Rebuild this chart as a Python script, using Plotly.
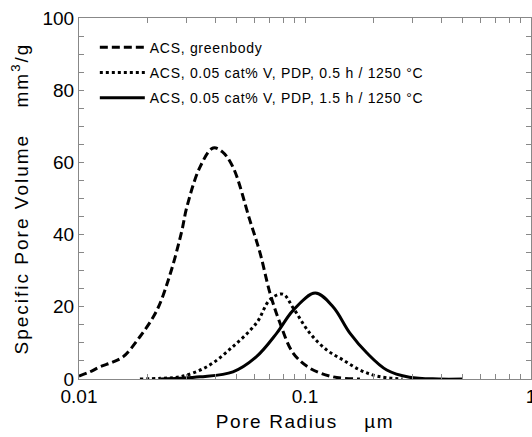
import plotly.graph_objects as go

# Data
x_green = [0.0100, 0.0112, 0.0124, 0.0140, 0.0157, 0.0186, 0.0221, 0.0253, 0.0285, 0.0300, 0.0343,
           0.0392, 0.0430, 0.0480, 0.0570, 0.0632, 0.0700, 0.0775, 0.0886, 0.1050, 0.1330, 0.1750]
y_green = [0.8, 2.0, 3.4, 4.6, 6.2, 11.7, 19.0, 29.0, 41.0, 47.6, 58.7,
           64.0, 63.0, 58.7, 44.0, 35.0, 23.8, 15.5, 7.2, 3.0, 0.6, 0.0]

x_05h = [0.0186, 0.0230, 0.0280, 0.0368, 0.0480, 0.0610, 0.0700, 0.0799, 0.0886, 0.1050,
         0.1250, 0.1470, 0.1750, 0.2080, 0.2700]
y_05h = [0.0, 0.2, 0.6, 3.4, 9.0, 15.5, 22.0, 23.5, 19.7, 12.7,
         8.0, 5.3, 2.5, 0.8, 0.0]

x_15h = [0.0230, 0.0280, 0.0343, 0.0480, 0.0610, 0.0750, 0.0886, 0.1110, 0.1330, 0.1580,
         0.1880, 0.2300, 0.2900, 0.3900, 0.5000]
y_15h = [0.0, 0.2, 0.6, 2.0, 6.2, 12.7, 19.0, 23.8, 20.0, 12.7,
         7.2, 2.5, 0.5, 0.0, 0.0]

names = ["ACS, greenbody",
         "ACS, 0.05 cat% V, PDP, 0.5 h / 1250 °C",
         "ACS, 0.05 cat% V, PDP, 1.5 h / 1250 °C"]

x_major = [0.01, 0.1, 1]
x_major_labels = ["0.01", "0.1", "1"]
y_major = [0, 20, 40, 60, 80, 100]


def spaced(txt, px):
    return f'<span style="letter-spacing:{px}px">{txt}</span>'


fig = go.Figure()
fig.add_trace(go.Scatter(x=x_green, y=y_green, mode="lines", name=spaced(names[0], 0.7), legendgroup="a",
                         line=dict(color="black", width=3, dash="8px,4px", shape="spline")))
fig.add_trace(go.Scatter(x=x_05h, y=y_05h, mode="lines", name=spaced(names[1], 0.7), legendgroup="b",
                         line=dict(color="black", width=3, dash="3px,3px", shape="spline")))
fig.add_trace(go.Scatter(x=x_15h, y=y_15h, mode="lines", name=spaced(names[2], 0.7), legendgroup="c",
                         line=dict(color="black", width=3, shape="spline")))

# tick lists (majors labelled, minors blank)
xt, xl = [], []
for d in [0.01, 0.1]:
    for m in range(1, 10):
        v = round(d * m, 4)
        xt.append(v)
        xl.append(x_major_labels[x_major.index(d)] if m == 1 else "")
xt.append(1)
xl.append("1")
yt = list(range(0, 101, 5))
yl = [str(v) if v in y_major else "" for v in yt]

font = "Arial, Liberation Sans, sans-serif"
fig.update_layout(
    width=532, height=437,
    margin=dict(l=79, r=1, t=18, b=58),
    paper_bgcolor="white", plot_bgcolor="white",
    font=dict(family=font, color="black"),
    showlegend=True,
    legend=dict(x=0.035, y=0.962, xanchor="left", yanchor="top",
                bgcolor="rgba(0,0,0,0)", font=dict(size=14, family=font),
                tracegroupgap=4, itemwidth=45),
    xaxis=dict(type="log", range=[-2, 0], tickvals=xt, ticktext=xl, automargin=False,
               ticks="inside", ticklen=5, tickcolor="#888", showline=True,
               linecolor="#888", linewidth=1, mirror="ticks", showgrid=False,
               zeroline=False, tickfont=dict(size=19), ticklabeloverflow="allow",
               title=dict(text=spaced("Pore Radius", 1.6) + "     " + spaced("µm", 1.6),
                          font=dict(size=19), standoff=8)),
    yaxis=dict(range=[0, 100], tickvals=yt, ticktext=yl, automargin=False,
               ticks="inside", ticklen=5, tickcolor="#888", showline=True,
               linecolor="#888", linewidth=1, mirror="ticks", showgrid=False,
               zeroline=False, tickfont=dict(size=19),
               title=dict(text=spaced("Specific Pore Volume", 2) + "     " + spaced("mm<sup>3</sup>/g", 2),
                          font=dict(size=19), standoff=8)),
)

fig.write_html("out.html", config={"displayModeBar": False},
               post_script="document.body.style.margin='0';document.body.style.overflow='hidden';")
